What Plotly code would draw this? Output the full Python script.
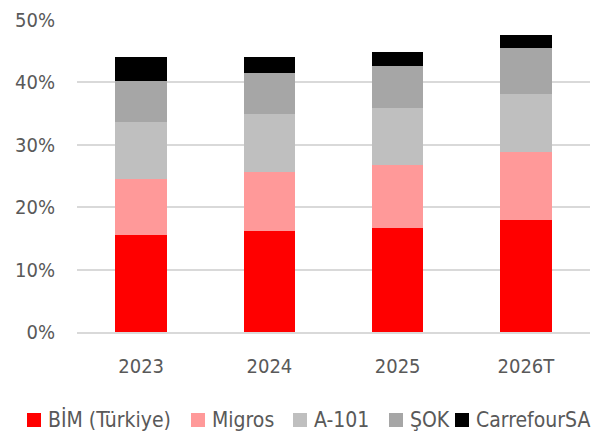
import plotly.graph_objects as go

categories = ["2023", "2024", "2025", "2026T"]
series_names = ["BİM (Türkiye)", "Migros", "A-101", "ŞOK", "CarrefourSA"]
bim = [15.6, 16.2, 16.7, 18.0]
migros = [9.0, 9.5, 10.1, 10.9]
a101 = [9.0, 9.2, 9.1, 9.2]
sok = [6.6, 6.6, 6.7, 7.4]
carrefour = [3.9, 2.6, 2.3, 2.1]
colors = ["#ff0000", "#ff9999", "#bfbfbf", "#a6a6a6", "#000000"]
y_ticks = [0, 10, 20, 30, 40, 50]
y_tick_labels = ["0%", "10%", "20%", "30%", "40%", "50%"]

FONT = "DejaVu Sans Condensed, Roboto, Noto Sans, sans-serif"
TXT = "#595959"

W, H = 601, 432
ML, MR, MT, MB = 77, 11, 20, 100
PW, PH = W - ML - MR, H - MT - MB

def px_x(p):
    return (p - ML) / PW

def px_y(q):
    return (H - MB - q) / PH

fig = go.Figure()
for name, vals, col in zip(series_names, [bim, migros, a101, sok, carrefour], colors):
    fig.add_trace(go.Bar(x=categories, y=vals, name=name, showlegend=False,
                         marker=dict(color=col, line=dict(width=0))))

# legend drawn as squares + text (single row like reference)
legend_square_left = [27, 191, 293, 389, 455]
sq = 14
leg_y_top, leg_y_mid = 413, 420
for name, col, x0 in zip(series_names, colors, legend_square_left):
    fig.add_shape(type="rect", xref="paper", yref="paper",
                  x0=px_x(x0), x1=px_x(x0 + sq), y0=px_y(leg_y_top + sq), y1=px_y(leg_y_top),
                  fillcolor=col, line=dict(width=0), layer="above")
    fig.add_annotation(xref="paper", yref="paper", x=px_x(x0 + sq + 5), y=px_y(leg_y_mid),
                       xanchor="left", yanchor="middle", text=name, showarrow=False,
                       font=dict(family=FONT, size=21, color=TXT))

fig.update_layout(
    barmode="stack",
    bargap=0.6,
    width=W, height=H,
    margin=dict(l=ML, r=MR, t=MT, b=MB, autoexpand=False),
    plot_bgcolor="white", paper_bgcolor="white",
    font=dict(family=FONT, size=20, color=TXT),
    showlegend=False,
)
fig.update_yaxes(range=[0, 50], tickvals=y_ticks, ticktext=y_tick_labels,
                 showgrid=True, gridcolor="#d9d9d9", gridwidth=1.5, zeroline=False,
                 ticklabelstandoff=21, showline=False)
fig.update_xaxes(showline=True, linecolor="#d9d9d9", linewidth=1.5, ticklabelstandoff=15)

fig.write_html("out.html", config={"displayModeBar": False},
               post_script="document.body.style.margin='0';")
